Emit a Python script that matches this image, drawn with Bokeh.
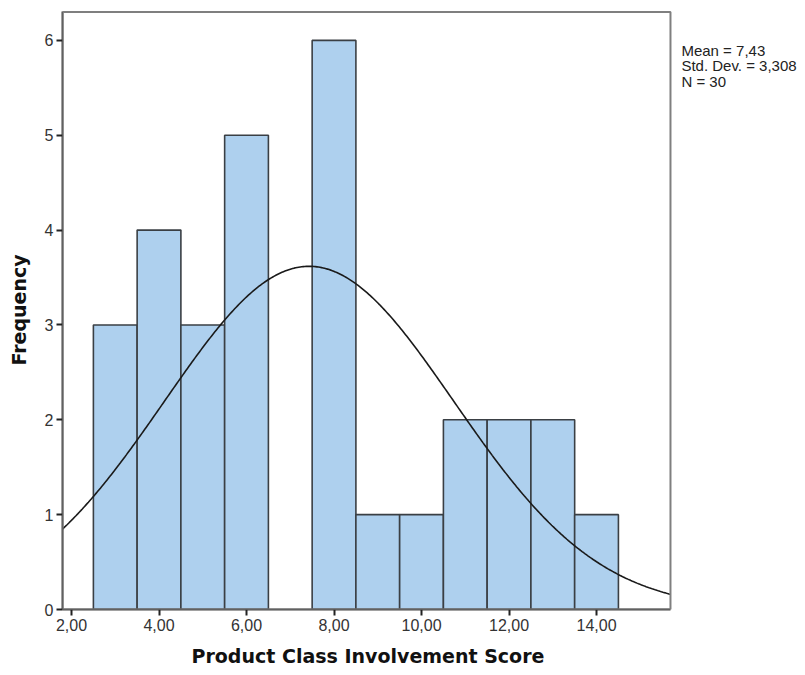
import numpy as np
from bokeh.plotting import figure
from bokeh.models import Range1d, FixedTicker, Label, BoxAnnotation, Title
from bokeh.embed import file_html
from bokeh.resources import INLINE

# Histogram data
bin_left = [2.5, 3.5, 4.5, 5.5, 6.5, 7.5, 8.5, 9.5, 10.5, 11.5, 12.5, 13.5]
bin_right = [3.5, 4.5, 5.5, 6.5, 7.5, 8.5, 9.5, 10.5, 11.5, 12.5, 13.5, 14.5]
counts = [3, 4, 3, 5, 0, 6, 1, 1, 2, 2, 2, 1]

mean_val = 7.43
sd_val = 3.308
n_val = 30
bin_width = 1.0

x_ticks = [2, 4, 6, 8, 10, 12, 14]
x_tick_labels = ["2,00", "4,00", "6,00", "8,00", "10,00", "12,00", "14,00"]
y_ticks = [0, 1, 2, 3, 4, 5, 6]
stats_lines = ["Mean = 7,43", "Std. Dev. = 3,308", "N = 30"]
x_label = "Product Class Involvement Score"
y_label = "Frequency"

# visible plot area (axis extent) and full frame extent (incl. the stats panel)
x_min, x_max = 1.794, 15.69
y_min, y_max = 0, 6.30
x_frame_max = 18.616
y_frame_max = 6.315

FONT = "Liberation Sans"
BOLD_FONT = "DejaVu Sans"

p = figure(width=800, height=675, output_backend="svg", toolbar_location=None,
           x_range=Range1d(x_min, x_frame_max), y_range=Range1d(y_min, y_frame_max),
           min_border_left=62, min_border_top=10, min_border_right=2,
           min_border_bottom=0)

p.background_fill_color = "white"
p.border_fill_color = "white"
p.outline_line_color = None
p.grid.visible = False

# plot-area border (top and right edges gray)
p.add_layout(BoxAnnotation(left=x_min, right=x_max, bottom=y_min, top=y_max,
                           fill_alpha=0, line_color="#7f7f7f", line_alpha=1,
                           line_width=2))

# bars
bl = [l for l, c in zip(bin_left, counts) if c > 0]
br = [r for r, c in zip(bin_right, counts) if c > 0]
bc = [c for c in counts if c > 0]
p.quad(left=bl, right=br, bottom=0, top=bc, fill_color="#aed0ee",
       line_color="#3a3f44", line_width=1.6)

# fitted normal curve from displayed statistics
xs = np.linspace(x_min, x_max, 400)
ys = n_val * bin_width * np.exp(-0.5 * ((xs - mean_val) / sd_val) ** 2) / (sd_val * np.sqrt(2 * np.pi))
p.line(xs, ys, line_color="#1a1a1a", line_width=1.6)

# axes
p.xaxis.ticker = FixedTicker(ticks=x_ticks)
p.xaxis.major_label_overrides = {t: l for t, l in zip(x_ticks, x_tick_labels)}
p.xaxis.bounds = (x_min, x_max)
p.yaxis.ticker = FixedTicker(ticks=y_ticks)
p.yaxis.bounds = (y_min, y_max)
p.xaxis.minor_tick_line_color = None
p.yaxis.minor_tick_line_color = None
for axs in (p.xaxis, p.yaxis):
    axs.axis_line_color = "#444444"
    axs.axis_line_width = 2
    axs.major_tick_line_color = "#222222"
    axs.major_tick_line_width = 2
    axs.major_tick_in = 0
    axs.major_tick_out = 6
    axs.major_label_text_font = FONT
    axs.major_label_text_font_size = "16px"
    axs.major_label_text_color = "#333333"
    axs.axis_label_text_font = BOLD_FONT
    axs.axis_label_text_font_size = "19px"
    axs.axis_label_text_font_style = "bold"
    axs.axis_label_text_color = "#111111"

p.yaxis.axis_label = y_label
p.xaxis.major_label_standoff = 3
p.yaxis.major_label_standoff = 3
p.yaxis.axis_label_standoff = 12

# x-axis title, centred under the plot area (not under the stats panel)
p.add_layout(Title(text=x_label, align="left", offset=129, standoff=18,
                   text_font=BOLD_FONT, text_font_size="19px",
                   text_line_height=0.8, vertical_align="bottom",
                   text_font_style="bold", text_color="#111111"), "below")

# stats text
for i, s in enumerate(stats_lines):
    p.add_layout(Label(x=15.94, y=5.985 - i * 0.164, x_units="data", y_units="data",
                       text=s, text_font=FONT, text_font_size="15px",
                       text_color="#222222", text_baseline="top"))

html = file_html(p, INLINE)
open("out.html", "w").write(html)
